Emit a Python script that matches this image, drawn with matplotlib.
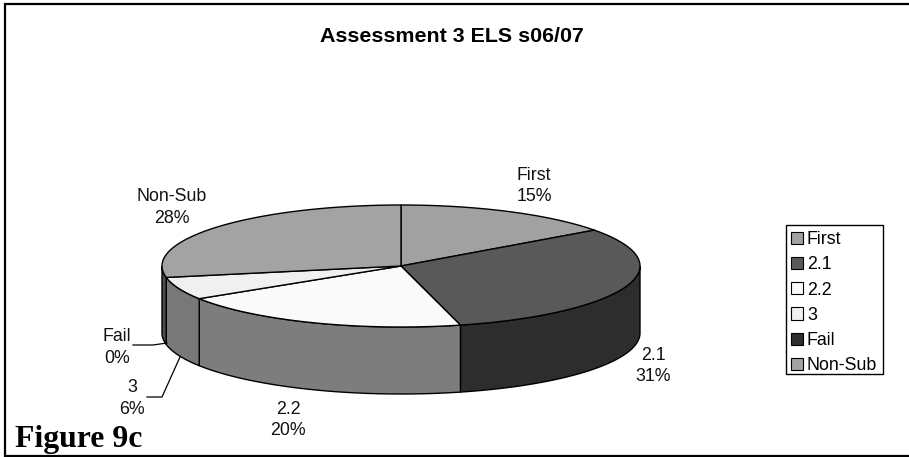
#!/usr/bin/env python3
"""Assessment 3 ELS s06/07: grade shares as an extruded 3D-style pie."""

import numpy as np
import matplotlib
matplotlib.use("Agg")
import matplotlib.pyplot as plt
from matplotlib.patches import Patch, Polygon, Rectangle

plt.rcParams['font.family'] = ['Liberation Sans', 'DejaVu Sans']

# Grades and their share of the cohort (%)
categories = ["First", "2.1", "2.2", "3", "Fail", "Non-Sub"]
shares = [15, 31, 20, 6, 0, 28]
top_colors = ["#a1a1a1", "#595959", "#fafafa", "#f0f0f0", "#2d2d2d", "#a3a3a3"]
side_colors = ["#505050", "#2d2d2d", "#7d7d7d", "#787878", "#1a1a1a", "#4d4d4d"]

# Label anchors in pixels (centre x, baseline y of the first line)
label_pos = {
    "First": (534, 179.5),
    "2.1": (653, 359.5),
    "2.2": (288, 413.5),
    "3": (132, 392),
    "Fail": (117, 341),
    "Non-Sub": (172, 201),
}

CX, CY = 401, 266
RX, RY = 239, 61
DEPTH = 67
LINE_H = 21.7


def rim(theta_deg):
    """Point on the top ellipse; 0 deg is straight up, angles run clockwise."""
    t = np.radians(theta_deg)
    return CX + RX * np.sin(t), CY - RY * np.cos(t)


fig = plt.figure(figsize=(9.09, 4.57), dpi=100)
ax = fig.add_axes([0, 0, 1, 1])
ax.set_xlim(0, 909)
ax.set_ylim(457, 0)
ax.axis('off')

# Chart border: open on the right, runs off the edge of the figure
ax.plot([909, 5, 5, 909], [4, 4, 455.5, 455.5], color='black', lw=1.6, zorder=1,
        solid_joinstyle='miter')

edges = np.concatenate([[0], np.cumsum(shares)]) * 3.6

# Extruded wall: only the front half of the rim (90-270 deg) can be seen
for i in range(len(categories)):
    a0 = max(edges[i], 90)
    a1 = min(edges[i + 1], 270)
    if a1 <= a0:
        continue
    th = np.linspace(a0, a1, 80)
    x, y = rim(th)
    pts = np.column_stack([np.concatenate([x, x[::-1]]),
                           np.concatenate([y, y[::-1] + DEPTH])])
    ax.add_patch(Polygon(pts, closed=True, fc=side_colors[i], ec='black', lw=1.0, zorder=2))

# Top face wedges
for i in range(len(categories)):
    if shares[i] == 0:
        continue
    th = np.linspace(edges[i], edges[i + 1], 120)
    x, y = rim(th)
    pts = np.column_stack([np.r_[CX, x], np.r_[CY, y]])
    ax.add_patch(Polygon(pts, closed=True, fc=top_colors[i], ec='black', lw=1.0,
                         joinstyle='round', zorder=3))

# Data labels, name over percentage
for name, share in zip(categories, shares):
    lx, ly = label_pos[name]
    ax.text(lx, ly, name, ha='center', va='baseline', fontsize=12.75, color='#111111')
    ax.text(lx, ly + LINE_H, f"{share}%", ha='center', va='baseline', fontsize=12.75, color='#111111')

# Leader lines for the two thin slices
ax.plot([133, 153, 167], [345, 345, 343], color='black', lw=0.9, zorder=4)
ax.plot([147, 162, 180], [397, 397, 357], color='black', lw=0.9, zorder=4)

ax.text(451.5, 41.5, "Assessment 3 ELS s06/07", ha='center', va='baseline',
        fontsize=15.4, fontweight='bold', color='black')
ax.text(15, 446.5, "Figure 9c", ha='left', va='baseline', family='Liberation Serif',
        fontsize=22.9, fontweight='bold', color='black')

# Legend box is drawn separately so its height can sit tight on the rows
ax.add_patch(Rectangle((786, 225), 97, 149, fc='white', ec='black', lw=1.0, zorder=4))
handles = [Patch(fc=c, ec='black', lw=0.8, label=n) for c, n in zip(top_colors, categories)]
ax.legend(handles=handles, loc='upper left', bbox_to_anchor=(786, 226),
          bbox_transform=ax.transData, fontsize=12.75, frameon=False,
          borderaxespad=0, borderpad=0.3, handlelength=0.68, handleheight=0.68,
          handletextpad=0.2, labelspacing=0.46)

fig.savefig("out.png", dpi=100)
